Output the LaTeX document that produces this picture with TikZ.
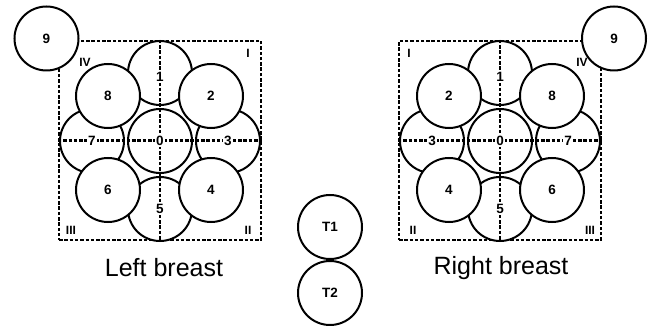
\documentclass[tikz,border=0pt]{standalone}
\usepackage{fontspec}
\setmainfont{Liberation Sans}
\usetikzlibrary{positioning}
\tikzset{
  spot/.style={
    circle,
    draw=black, line width=2pt,
    fill=white,
    minimum size=64pt,
    inner sep=0pt,
    font=\bfseries\fontsize{13.5}{13.5}\selectfont},
  quad/.style={
    rectangle,
    draw=black, line width=2.2pt,
    dash pattern=on 3.5pt off 1.8pt,
    minimum width=202pt,
    minimum height=199pt,
    inner sep=0pt},
  axis/.style={draw, line width=2.2pt, dash pattern=on 3.5pt off 1.8pt},
  num/.style={fill=white, inner sep=1pt, font=\bfseries\fontsize{13.5}{13.5}\selectfont},
  quadrant/.style={inner sep=0pt, font=\bfseries\fontsize{12}{12}\selectfont},
  caption/.style={font=\fontsize{25}{29}\selectfont},
}
\begin{document}
\begin{tikzpicture}[x=1pt, y=-1pt]
	\useasboundingbox (0,0) rectangle (651,326);

	% left breast
	\node[quad] (lbox) at (160,140.5) {};
	\node[spot] (lc1) at (160,73) {};
	\node[spot] (lc3) at (228,141) {};
	\node[spot] (lc5) at (160,209) {};
	\node[spot] (lc7) at (92,141) {};
	\node[spot] (lc0) at (160,141) {};
	\node[spot] (lc2) at (211,96) {2};
	\node[spot] (lc4) at (211,190) {4};
	\node[spot] (lc6) at (108,190) {6};
	\node[spot] (lc8) at (108,96) {8};
	\node[spot] (lc9) at (46.5,38.5) {9};
	\draw[axis] (lbox.north) -- (lbox.south);
	\draw[axis] (lbox.west) -- (lbox.east);
	\node[num] (ln0) at (lc0) {0};
	\node[num, yshift=-4pt] (ln1) at (lc1) {1};
	\node[num] (ln3) at (lc3) {3};
	\node[num] (ln5) at (lc5) {5};
	\node[num] (ln7) at (lc7) {7};
	\node[quadrant] (lq1) at (248,53) {I};
	\node[quadrant] (lq2) at (248,230) {II};
	\node[quadrant] (lq3) at (71,230) {III};
	\node[quadrant] (lq4) at (85,62) {IV};
	\node[caption] (lcap) at (164,268) {Left breast};

	% right breast
	\node[quad] (rbox) at (500,140.5) {};
	\node[spot] (rc1) at (500,73) {};
	\node[spot] (rc3) at (432,141) {};
	\node[spot] (rc5) at (500,209) {};
	\node[spot] (rc7) at (568,141) {};
	\node[spot] (rc0) at (500,141) {};
	\node[spot] (rc2) at (449,96) {2};
	\node[spot] (rc4) at (449,190) {4};
	\node[spot] (rc6) at (552,190) {6};
	\node[spot] (rc8) at (552,96) {8};
	\node[spot] (rc9) at (614,38.5) {9};
	\draw[axis] (rbox.north) -- (rbox.south);
	\draw[axis] (rbox.west) -- (rbox.east);
	\node[num] (rn0) at (rc0) {0};
	\node[num, yshift=-4pt] (rn1) at (rc1) {1};
	\node[num] (rn3) at (rc3) {3};
	\node[num] (rn5) at (rc5) {5};
	\node[num] (rn7) at (rc7) {7};
	\node[quadrant] (rq1) at (409,53) {I};
	\node[quadrant] (rq2) at (413,230) {II};
	\node[quadrant] (rq3) at (590,230) {III};
	\node[quadrant] (rq4) at (582,62) {IV};
	\node[caption] (rcap) at (501,268) {Right breast};

	% tissue references
	\node[spot] (t1) at (330,227) {T1};
	\node[spot, below=0pt of t1] (t2) {T2};

\end{tikzpicture}
\end{document}
